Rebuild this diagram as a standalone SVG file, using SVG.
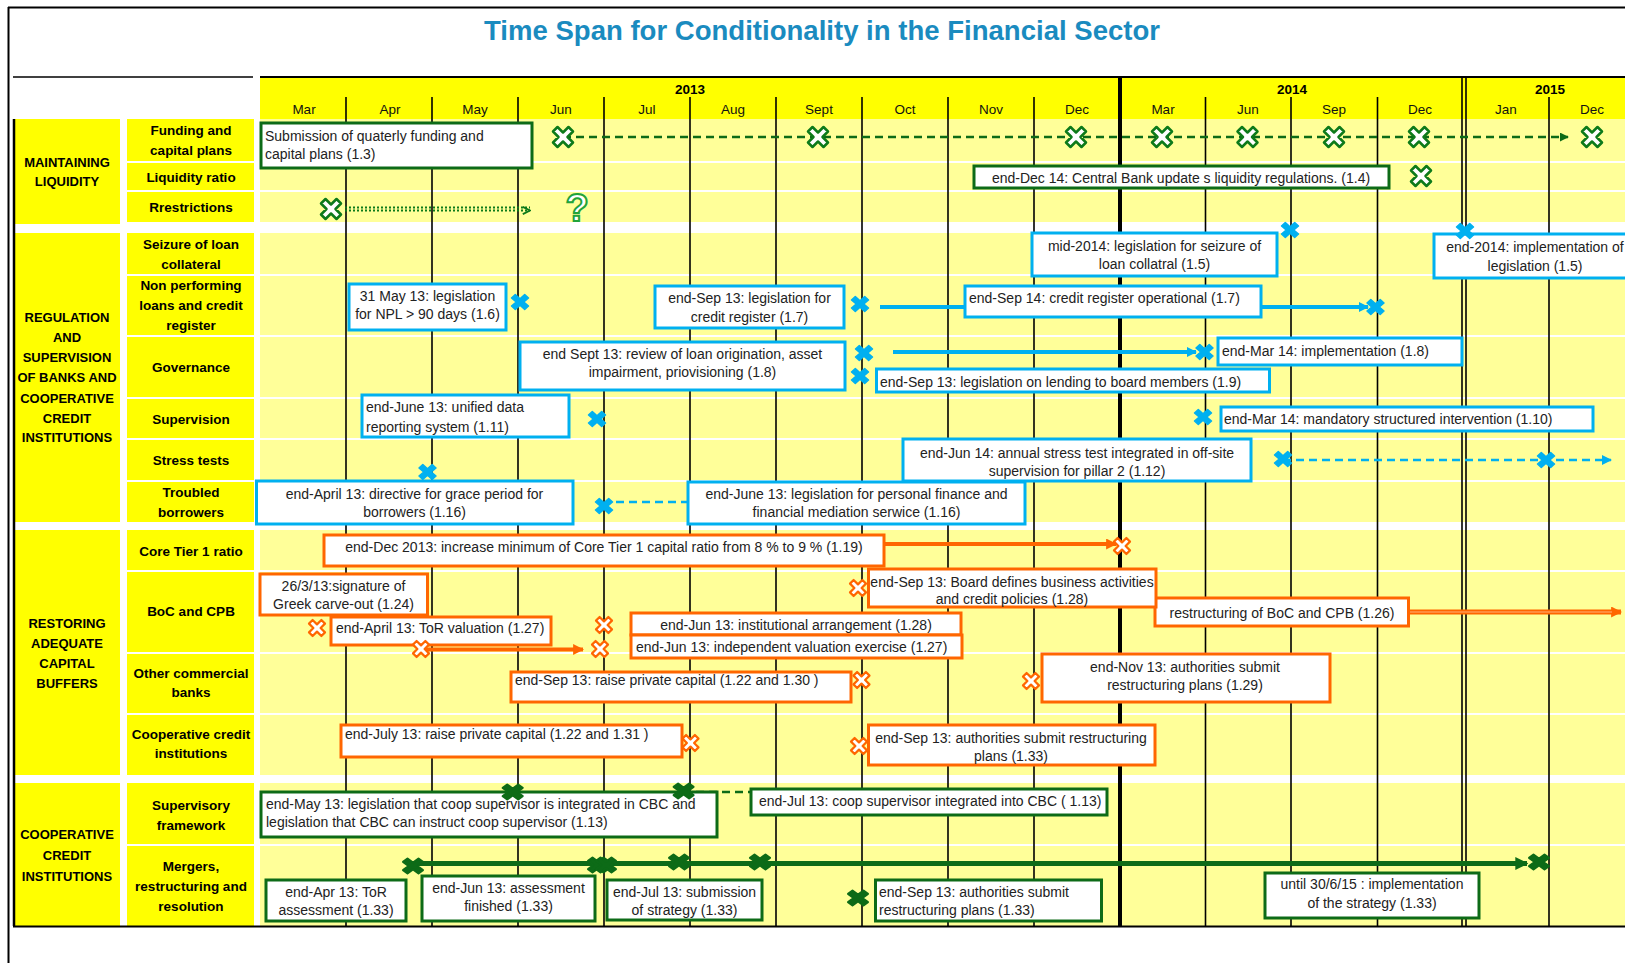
<svg xmlns="http://www.w3.org/2000/svg" xmlns:xlink="http://www.w3.org/1999/xlink" width="1625" height="963" viewBox="0 0 1625 963">
<style>
.sec{fill:#ffff00}
.bg{fill:#ffff99}
.lbl{font-family:"Liberation Sans",Arial,sans-serif;font-weight:bold;font-size:13.5px;text-anchor:middle;fill:#000}
.slbl{font-family:"Liberation Sans",Arial,sans-serif;font-weight:bold;font-size:13px;text-anchor:middle;fill:#000}
.mon{font-family:"Liberation Sans",Arial,sans-serif;font-size:13.5px;text-anchor:middle;fill:#111}
.yr{font-family:"Liberation Sans",Arial,sans-serif;font-weight:bold;font-size:13.5px;text-anchor:middle;fill:#000}
.t{font-family:"Liberation Sans",Arial,sans-serif;font-size:14px;fill:#222}
.c{text-anchor:middle}
.gb{fill:#fff;stroke:#0d6b17;stroke-width:3}
.bb{fill:#fff;stroke:#00b0f0;stroke-width:3}
.ob{fill:#fff;stroke:#ff6600;stroke-width:3}
.vl{stroke:#000;stroke-width:1.6}
.gx{fill:#fff;stroke:#0d7a1a;stroke-width:2.5;stroke-linejoin:round}
.bx{fill:#00b0f0;stroke:#00b0f0;stroke-width:1.5;stroke-linejoin:round}
.ox{fill:#fff;stroke:#ff6600;stroke-width:2.2;stroke-linejoin:round}
.dx{fill:#0d6b17;stroke:#0d6b17;stroke-width:2;stroke-linejoin:round}
</style>
<defs>
<path id="gxs" d="M-10,-5.5 L-5.5,-10 L0,-4.5 L5.5,-10 L10,-5.5 L4.5,0 L10,5.5 L5.5,10 L0,4.5 L-5.5,10 L-10,5.5 L-4.5,0 Z"/>
<path id="bxs" d="M-8.5,-4 L-4.7,-7.5 L0,-3.3 L4.7,-7.5 L8.5,-4 L3.8,0 L8.5,4 L4.7,7.5 L0,3.3 L-4.7,7.5 L-8.5,4 L-3.8,0 Z"/>
<path id="oxs" d="M-8,-4.4 L-4.4,-8 L0,-3.6 L4.4,-8 L8,-4.4 L3.6,0 L8,4.4 L4.4,8 L0,3.6 L-4.4,8 L-8,4.4 L-3.6,0 Z"/>
<path id="dxs" d="M-10,-4.1 L-5.5,-7.5 L0,-3.4 L5.5,-7.5 L10,-4.1 L4.5,0 L10,4.1 L5.5,7.5 L0,3.4 L-5.5,7.5 L-10,4.1 L-4.5,0 Z"/>
<marker id="ag" viewBox="0 0 10 10" refX="9" refY="5" markerWidth="9" markerHeight="9" markerUnits="userSpaceOnUse" orient="auto"><path d="M0,0 L10,5 L0,10 Z" fill="#0d6b17"/></marker>
<marker id="agd" viewBox="0 0 10 10" refX="9" refY="5" markerWidth="9" markerHeight="9" markerUnits="userSpaceOnUse" orient="auto"><path d="M1,1 L9,5 L1,9" fill="none" stroke="#0d7a1a" stroke-width="2"/></marker>
<marker id="ab" viewBox="0 0 10 10" refX="9" refY="5" markerWidth="10" markerHeight="10" markerUnits="userSpaceOnUse" orient="auto"><path d="M0,0 L10,5 L0,10 Z" fill="#00b0f0"/></marker>
<marker id="ao" viewBox="0 0 10 10" refX="9" refY="5" markerWidth="11" markerHeight="11" markerUnits="userSpaceOnUse" orient="auto"><path d="M0,0 L10,5 L0,10 Z" fill="#ff6600"/></marker>
<marker id="adg" viewBox="0 0 10 10" refX="9" refY="5" markerWidth="13" markerHeight="13" markerUnits="userSpaceOnUse" orient="auto"><path d="M0,0 L10,5 L0,10 Z" fill="#0d6b17"/></marker>
</defs>

<rect x="0" y="0" width="1625" height="963" fill="#fff"/>
<line x1="8.5" y1="7" x2="8.5" y2="963" stroke="#000" stroke-width="2"/>
<line x1="8" y1="7.5" x2="1625" y2="7.5" stroke="#000" stroke-width="2"/>

<text x="822" y="40" text-anchor="middle" font-family="Liberation Sans, Arial, sans-serif" font-weight="bold" font-size="28" fill="#1a8bbf" textLength="676" lengthAdjust="spacingAndGlyphs">Time Span for Conditionality in the Financial Sector</text>

<g id="header">
<line x1="13" y1="77" x2="253" y2="77" stroke="#000" stroke-width="1.5"/>
<rect x="260" y="77" width="1365" height="42" fill="#ffff00"/>
<line x1="260" y1="77" x2="1625" y2="77" stroke="#000" stroke-width="2"/>
<text class="yr" x="690" y="94">2013</text>
<text class="yr" x="1292" y="94">2014</text>
<text class="yr" x="1550" y="94">2015</text>
<text class="mon" x="304" y="114">Mar</text>
<text class="mon" x="390" y="114">Apr</text>
<text class="mon" x="475" y="114">May</text>
<text class="mon" x="561" y="114">Jun</text>
<text class="mon" x="647" y="114">Jul</text>
<text class="mon" x="733" y="114">Aug</text>
<text class="mon" x="819" y="114">Sept</text>
<text class="mon" x="905" y="114">Oct</text>
<text class="mon" x="991" y="114">Nov</text>
<text class="mon" x="1077" y="114">Dec</text>
<text class="mon" x="1163" y="114">Mar</text>
<text class="mon" x="1248" y="114">Jun</text>
<text class="mon" x="1334" y="114">Sep</text>
<text class="mon" x="1420" y="114">Dec</text>
<text class="mon" x="1506" y="114">Jan</text>
<text class="mon" x="1592" y="114">Dec</text>
</g>

<g id="grid">
<rect class="sec" x="15" y="119" width="105" height="105"/>
<rect class="sec" x="15" y="233" width="105" height="289"/>
<rect class="sec" x="15" y="530" width="105" height="245"/>
<rect class="sec" x="15" y="783" width="105" height="143"/>
<rect class="sec" x="127" y="119" width="127" height="42"/>
<rect class="sec" x="127" y="163" width="127" height="27"/>
<rect class="sec" x="127" y="192" width="127" height="30"/>
<rect class="sec" x="127" y="233" width="127" height="41"/>
<rect class="sec" x="127" y="276" width="127" height="59"/>
<rect class="sec" x="127" y="337" width="127" height="60"/>
<rect class="sec" x="127" y="399" width="127" height="39"/>
<rect class="sec" x="127" y="440" width="127" height="40"/>
<rect class="sec" x="127" y="482" width="127" height="40"/>
<rect class="sec" x="127" y="530" width="127" height="40"/>
<rect class="sec" x="127" y="572" width="127" height="80"/>
<rect class="sec" x="127" y="654" width="127" height="59"/>
<rect class="sec" x="127" y="715" width="127" height="60"/>
<rect class="sec" x="127" y="783" width="127" height="61"/>
<rect class="sec" x="127" y="846" width="127" height="80"/>
<rect class="bg" x="260" y="119" width="1365" height="42"/>
<rect class="bg" x="260" y="163" width="1365" height="27"/>
<rect class="bg" x="260" y="192" width="1365" height="30"/>
<rect class="bg" x="260" y="233" width="1365" height="41"/>
<rect class="bg" x="260" y="276" width="1365" height="59"/>
<rect class="bg" x="260" y="337" width="1365" height="60"/>
<rect class="bg" x="260" y="399" width="1365" height="39"/>
<rect class="bg" x="260" y="440" width="1365" height="40"/>
<rect class="bg" x="260" y="482" width="1365" height="40"/>
<rect class="bg" x="260" y="530" width="1365" height="40"/>
<rect class="bg" x="260" y="572" width="1365" height="80"/>
<rect class="bg" x="260" y="654" width="1365" height="59"/>
<rect class="bg" x="260" y="715" width="1365" height="60"/>
<rect class="bg" x="260" y="783" width="1365" height="61"/>
<rect class="bg" x="260" y="846" width="1365" height="80"/>
<g class="vl">
<line x1="346" y1="97" x2="346" y2="926"/>
<line x1="432" y1="97" x2="432" y2="926"/>
<line x1="518" y1="97" x2="518" y2="926"/>
<line x1="604" y1="97" x2="604" y2="926"/>
<line x1="690" y1="97" x2="690" y2="926"/>
<line x1="776" y1="97" x2="776" y2="926"/>
<line x1="862" y1="97" x2="862" y2="926"/>
<line x1="948" y1="97" x2="948" y2="926"/>
<line x1="1034" y1="97" x2="1034" y2="926"/>
<line x1="1205.5" y1="97" x2="1205.5" y2="926"/>
<line x1="1291" y1="97" x2="1291" y2="926"/>
<line x1="1377.5" y1="97" x2="1377.5" y2="926"/>
<line x1="1549" y1="97" x2="1549" y2="926"/>
<line x1="1462" y1="77" x2="1462" y2="926"/>
<line x1="1466" y1="77" x2="1466" y2="926"/>
</g>
<line x1="1120" y1="77" x2="1120" y2="926" stroke="#000" stroke-width="4"/>
<line x1="14" y1="119" x2="14" y2="926" stroke="#000" stroke-width="2.5"/>
<line x1="13" y1="926.5" x2="1625" y2="926.5" stroke="#000" stroke-width="2"/>
</g>

<g id="sections">
<text class="slbl" x="67" y="166.5">MAINTAINING</text>
<text class="slbl" x="67" y="185.5">LIQUIDITY</text>
<text class="slbl" x="67" y="321.5">REGULATION</text>
<text class="slbl" x="67" y="341.5">AND</text>
<text class="slbl" x="67" y="361.5">SUPERVISION</text>
<text class="slbl" x="67" y="381.5">OF BANKS AND</text>
<text class="slbl" x="67" y="402.5">COOPERATIVE</text>
<text class="slbl" x="67" y="422.5">CREDIT</text>
<text class="slbl" x="67" y="441.5">INSTITUTIONS</text>
<text class="slbl" x="67" y="627.5">RESTORING</text>
<text class="slbl" x="67" y="647.5">ADEQUATE</text>
<text class="slbl" x="67" y="667.5">CAPITAL</text>
<text class="slbl" x="67" y="687.5">BUFFERS</text>
<text class="slbl" x="67" y="838.5">COOPERATIVE</text>
<text class="slbl" x="67" y="859.5">CREDIT</text>
<text class="slbl" x="67" y="880.5">INSTITUTIONS</text>
</g>
<g id="rowlabels">
<text class="lbl" x="191" y="135">Funding and</text>
<text class="lbl" x="191" y="154.5">capital plans</text>
<text class="lbl" x="191" y="181.5">Liquidity ratio</text>
<text class="lbl" x="191" y="211.5">Rrestrictions</text>
<text class="lbl" x="191" y="249">Seizure of loan</text>
<text class="lbl" x="191" y="268.5">collateral</text>
<text class="lbl" x="191" y="289.5">Non performing</text>
<text class="lbl" x="191" y="309.5">loans and credit</text>
<text class="lbl" x="191" y="329.5">register</text>
<text class="lbl" x="191" y="371.5">Governance</text>
<text class="lbl" x="191" y="423.5">Supervision</text>
<text class="lbl" x="191" y="464.5">Stress tests</text>
<text class="lbl" x="191" y="496.5">Troubled</text>
<text class="lbl" x="191" y="516.5">borrowers</text>
<text class="lbl" x="191" y="555.5">Core Tier 1 ratio</text>
<text class="lbl" x="191" y="615.5">BoC and CPB</text>
<text class="lbl" x="191" y="677.5">Other commercial</text>
<text class="lbl" x="191" y="696.5">banks</text>
<text class="lbl" x="191" y="738.5">Cooperative credit</text>
<text class="lbl" x="191" y="757.5">institutions</text>
<text class="lbl" x="191" y="809.5">Supervisory</text>
<text class="lbl" x="191" y="829.5">framework</text>
<text class="lbl" x="191" y="870.5">Mergers,</text>
<text class="lbl" x="191" y="890.5">restructuring and</text>
<text class="lbl" x="191" y="910.5">resolution</text>
</g>

<g id="connectors" fill="none">
<line x1="563" y1="137" x2="1568" y2="137" stroke="#0d6b17" stroke-width="2.5" stroke-dasharray="8,5" marker-end="url(#ag)"/>
<line x1="345" y1="207.5" x2="530" y2="207.5" stroke="#0d7a1a" stroke-width="2" stroke-dasharray="2,2"/>
<line x1="345" y1="210.5" x2="530" y2="210.5" stroke="#0d7a1a" stroke-width="2" stroke-dasharray="2,2" marker-end="url(#agd)"/>
<line x1="880" y1="307" x2="1368" y2="307" stroke="#00b0f0" stroke-width="4" marker-end="url(#ab)"/>
<line x1="893" y1="352" x2="1196" y2="352" stroke="#00b0f0" stroke-width="4" marker-end="url(#ab)"/>
<line x1="1283" y1="460" x2="1611" y2="460" stroke="#00b0f0" stroke-width="2.5" stroke-dasharray="8,5" marker-end="url(#ab)"/>
<line x1="689" y1="502" x2="610" y2="502" stroke="#00b0f0" stroke-width="2.5" stroke-dasharray="8,5"/>
<line x1="884" y1="544" x2="1116" y2="544" stroke="#ff6600" stroke-width="4" marker-end="url(#ao)"/>
<line x1="421" y1="649.5" x2="583" y2="649.5" stroke="#ff6600" stroke-width="4" marker-end="url(#ao)"/>
<line x1="1408" y1="612" x2="1621" y2="612" stroke="#ff6600" stroke-width="5" marker-end="url(#ao)"/>
<line x1="1408" y1="612" x2="1612" y2="612" stroke="#ffb27a" stroke-width="1"/>
<line x1="683" y1="792" x2="751" y2="792" stroke="#0d6b17" stroke-width="2.5" stroke-dasharray="8,5"/>
<line x1="417" y1="863.5" x2="1527" y2="863.5" stroke="#0d6b17" stroke-width="5" marker-end="url(#adg)"/>
</g>

<g id="n13"><rect class="gb" x="261" y="123" width="271" height="45"/><text class="t" x="265" y="141">Submission  of quaterly funding and</text><text class="t" x="265" y="159">capital plans  (1.3)</text></g>
<g id="n14"><rect class="gb" x="974" y="166" width="415" height="22"/><text class="t c" x="1181" y="182.5">end-Dec 14: Central Bank update s liquidity regulations. (1.4)</text></g>
<g id="q"><text x="577" y="221" text-anchor="middle" font-family="Liberation Sans, Arial, sans-serif" font-weight="bold" font-size="38" fill="#fff" stroke="#22a33a" stroke-width="2">?</text></g>

<g id="n15a"><rect class="bb" x="1032" y="233" width="245" height="43"/><text class="t c" x="1154.5" y="251">mid-2014: legislation for seizure of</text><text class="t c" x="1154.5" y="268.5">loan collatral (1.5)</text></g>
<g id="n15b"><rect class="bb" x="1434" y="234" width="202" height="44"/><text class="t c" x="1535" y="252">end-2014: implementation of</text><text class="t c" x="1535" y="270.5">legislation (1.5)</text></g>
<g id="n16"><rect class="bb" x="349" y="284" width="157" height="46"/><text class="t c" x="427.5" y="301">31 May 13: legislation</text><text class="t c" x="427.5" y="319">for NPL &gt; 90 days  (1.6)</text></g>
<g id="n17a"><rect class="bb" x="655" y="286" width="189" height="42"/><text class="t c" x="749.5" y="303">end-Sep 13: legislation for</text><text class="t c" x="749.5" y="322">credit  register  (1.7)</text></g>
<g id="n17b"><rect class="bb" x="965" y="286" width="296" height="31"/><text class="t" x="969" y="303">end-Sep 14: credit register operational  (1.7)</text></g>
<g id="n18a"><rect class="bb" x="520" y="342" width="325" height="48"/><text class="t c" x="682.5" y="359">end Sept 13:  review  of  loan origination, asset</text><text class="t c" x="682.5" y="377">impairment, priovisioning (1.8)</text></g>
<g id="n18b"><rect class="bb" x="1218" y="338" width="244" height="27"/><text class="t" x="1222" y="356">end-Mar 14:  implementation (1.8)</text></g>
<g id="n19"><rect class="bb" x="876.5" y="369" width="393" height="23"/><text class="t" x="880" y="386.5">end-Sep 13:  legislation on lending to board members  (1.9)</text></g>
<g id="n111"><rect class="bb" x="362" y="395" width="207" height="42"/><text class="t" x="366" y="412">end-June 13: unified data</text><text class="t" x="366" y="431.5">reporting system (1.11)</text></g>
<g id="n110"><rect class="bb" x="1221" y="407" width="372" height="24"/><text class="t" x="1224" y="423.5">end-Mar 14:  mandatory structured intervention (1.10)</text></g>
<g id="n112"><rect class="bb" x="903" y="439" width="348" height="42"/><text class="t c" x="1077" y="458">end-Jun 14: annual  stress  test integrated in off-site</text><text class="t c" x="1077" y="476">supervision for pillar 2 (1.12)</text></g>
<g id="n116a"><rect class="bb" x="256.5" y="481" width="316.5" height="43"/><text class="t c" x="414.5" y="499">end-April 13: directive for grace period for</text><text class="t c" x="414.5" y="517">borrowers (1.16)</text></g>
<g id="n116b"><rect class="bb" x="688" y="482" width="337" height="42"/><text class="t c" x="856.5" y="499">end-June 13: legislation  for  personal finance  and</text><text class="t c" x="856.5" y="517">financial mediation serwice (1.16)</text></g>

<g id="n119"><rect class="ob" x="324" y="535" width="560" height="31"/><text class="t c" x="604" y="552">end-Dec 2013:  increase minimum of Core Tier 1 capital ratio from 8  % to 9 % (1.19)</text></g>
<g id="n124"><rect class="ob" x="260" y="574" width="167.5" height="41"/><text class="t c" x="343.5" y="591">26/3/13:signature of</text><text class="t c" x="343.5" y="609">Greek carve-out (1.24)</text></g>
<g id="n127a"><rect class="ob" x="331" y="617" width="220" height="28"/><text class="t" x="336" y="633">end-April 13: ToR valuation (1.27)</text></g>
<g id="n128a"><rect class="ob" x="631" y="613" width="330" height="22"/><text class="t c" x="796" y="629.5">end-Jun  13: institutional arrangement (1.28)</text></g>
<g id="n127b"><rect class="ob" x="631" y="635" width="331" height="23"/><text class="t" x="636" y="651.5">end-Jun  13: independent valuation exercise  (1.27)</text></g>
<g id="n126"><rect class="ob" x="1155" y="598" width="253.5" height="28"/><text class="t c" x="1282" y="618">restructuring  of BoC and CPB  (1.26)</text></g>
<g id="n128b"><rect class="ob" x="868.5" y="569" width="287.5" height="38"/><text class="t c" x="1012" y="586.5">end-Sep 13: Board defines business activities</text><text class="t c" x="1012" y="604">and credit policies (1.28)</text></g>
<g id="n130"><rect class="ob" x="511" y="672" width="340" height="30"/><text class="t" x="515" y="685">end-Sep 13: raise private  capital (1.22 and 1.30 )</text></g>
<g id="n129"><rect class="ob" x="1042" y="654" width="288" height="48"/><text class="t c" x="1185" y="672">end-Nov 13: authorities submit</text><text class="t c" x="1185" y="690">restructuring plans  (1.29)</text></g>
<g id="n131"><rect class="ob" x="341" y="725" width="341" height="32"/><text class="t" x="345" y="739">end-July 13: raise private  capital (1.22 and 1.31 )</text></g>
<g id="n133a"><rect class="ob" x="868.5" y="725" width="286.5" height="40"/><text class="t c" x="1011" y="743">end-Sep 13: authorities submit restructuring</text><text class="t c" x="1011" y="761">plans  (1.33)</text></g>

<g id="n113a"><rect class="gb" x="261" y="792" width="456" height="45"/><text class="t" x="266" y="809">end-May 13:  legislation that coop supervisor is integrated in CBC and</text><text class="t" x="266" y="827">legislation that CBC can instruct coop supervisor (1.13)</text></g>
<g id="n113b"><rect class="gb" x="751" y="789" width="356" height="26"/><text class="t" x="759" y="806">end-Jul 13: coop supervisor integrated into CBC ( 1.13)</text></g>
<g id="n133b"><rect class="gb" x="266" y="880" width="140" height="41"/><text class="t c" x="336" y="897">end-Apr 13: ToR</text><text class="t c" x="336" y="915">assessment (1.33)</text></g>
<g id="n133c"><rect class="gb" x="422" y="876" width="173" height="45"/><text class="t c" x="508.5" y="893">end-Jun 13: assessment</text><text class="t c" x="508.5" y="911">finished  (1.33)</text></g>
<g id="n133d"><rect class="gb" x="607" y="880" width="155" height="40"/><text class="t c" x="684.5" y="897">end-Jul 13: submission</text><text class="t c" x="684.5" y="915">of strategy  (1.33)</text></g>
<g id="n133e"><rect class="gb" x="875.5" y="880" width="226" height="41"/><text class="t" x="879" y="897">end-Sep 13: authorities  submit</text><text class="t" x="879" y="915">restructuring plans  (1.33)</text></g>
<g id="n133f"><rect class="gb" x="1265" y="873" width="214" height="45"/><text class="t c" x="1372" y="889">until 30/6/15 : implementation</text><text class="t c" x="1372" y="908">of the strategy (1.33)</text></g>

<g id="markers">
<use href="#gxs" class="gx" x="563" y="137"/>
<use href="#gxs" class="gx" x="818" y="137"/>
<use href="#gxs" class="gx" x="1076" y="137"/>
<use href="#gxs" class="gx" x="1162" y="137"/>
<use href="#gxs" class="gx" x="1247.5" y="137"/>
<use href="#gxs" class="gx" x="1334" y="137"/>
<use href="#gxs" class="gx" x="1419" y="137"/>
<use href="#gxs" class="gx" x="1592" y="137"/>
<use href="#gxs" class="gx" x="1421" y="176"/>
<use href="#gxs" class="gx" x="331" y="209"/>
<use href="#bxs" class="bx" x="1290" y="230"/>
<use href="#bxs" class="bx" x="1465" y="231"/>
<use href="#bxs" class="bx" x="520" y="302"/>
<use href="#bxs" class="bx" x="860" y="304"/>
<use href="#bxs" class="bx" x="1375.5" y="307"/>
<use href="#bxs" class="bx" x="864" y="353"/>
<use href="#bxs" class="bx" x="860" y="376"/>
<use href="#bxs" class="bx" x="1204.5" y="352"/>
<use href="#bxs" class="bx" x="597" y="419"/>
<use href="#bxs" class="bx" x="1203" y="417"/>
<use href="#bxs" class="bx" x="427.5" y="472"/>
<use href="#bxs" class="bx" x="1283" y="459"/>
<use href="#bxs" class="bx" x="1546" y="460"/>
<use href="#bxs" class="bx" x="604" y="506"/>
<use href="#oxs" class="ox" x="1122" y="546"/>
<use href="#oxs" class="ox" x="317" y="628"/>
<use href="#oxs" class="ox" x="421" y="649"/>
<use href="#oxs" class="ox" x="600" y="649"/>
<use href="#oxs" class="ox" x="604" y="625"/>
<use href="#oxs" class="ox" x="858" y="588"/>
<use href="#oxs" class="ox" x="861.5" y="680"/>
<use href="#oxs" class="ox" x="1031" y="681"/>
<use href="#oxs" class="ox" x="690.5" y="743"/>
<use href="#oxs" class="ox" x="859" y="746"/>
<use href="#dxs" class="dx" x="512.7" y="792"/>
<use href="#dxs" class="dx" x="683.6" y="791"/>
<use href="#dxs" class="dx" x="413" y="866"/>
<use href="#dxs" class="dx" x="598" y="865"/>
<use href="#dxs" class="dx" x="606" y="865"/>
<use href="#dxs" class="dx" x="679" y="862"/>
<use href="#dxs" class="dx" x="760" y="862"/>
<use href="#dxs" class="dx" x="1539" y="862"/>
<use href="#dxs" class="dx" x="858" y="898"/>
</g>
</svg>
